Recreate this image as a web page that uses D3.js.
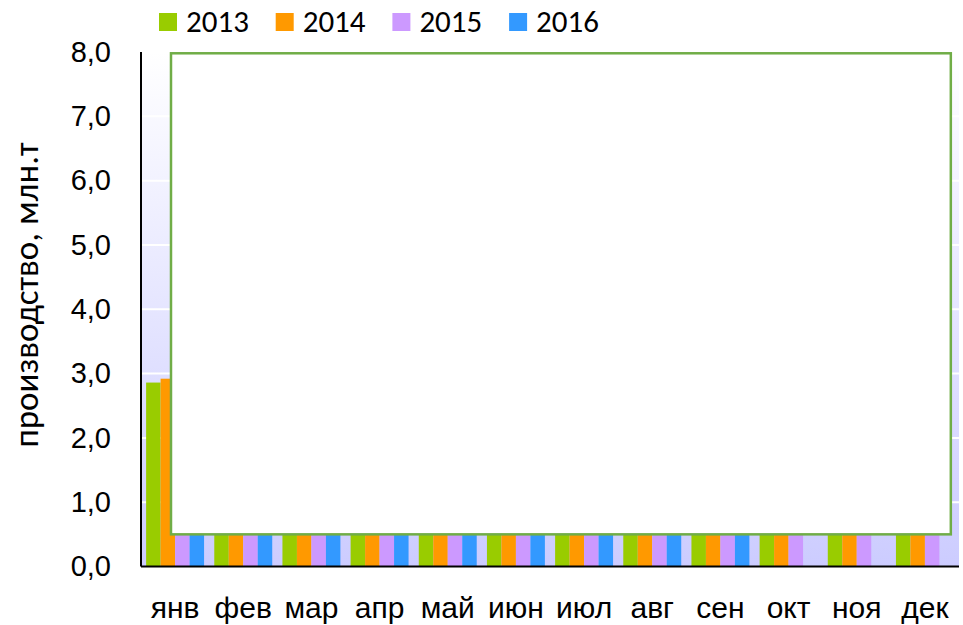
<!DOCTYPE html>
<meta charset="utf-8">
<style>
  body { margin: 0; background: #fff; }
  svg { display: block; font-family: Calibri, Carlito, "Open Sans", sans-serif; }
  .axis path, .axis line { display: none; }
  .axis text { fill: #000; }
</style>
<body></body>
<script src="https://cdn.jsdelivr.net/npm/d3@7"></script>
<script>
// months, series and ticks (hidden bars are estimates)
var months = ["янв", "фев", "мар", "апр", "май", "июн", "июл", "авг", "сен", "окт", "ноя", "дек"];
var years = ["2013", "2014", "2015", "2016"];
var colors = ["#99CC00", "#FF9900", "#CC99FF", "#3399FF"];
var v2013 = [2.86, 2.60, 2.85, 2.75, 2.80, 2.70, 2.85, 2.90, 2.80, 2.95, 2.90, 3.00];
var v2014 = [2.92, 2.65, 2.90, 2.80, 2.85, 2.75, 2.90, 2.95, 2.85, 3.00, 2.95, 3.05];
var v2015 = [2.95, 2.70, 2.95, 2.85, 2.90, 2.80, 2.95, 3.00, 2.90, 3.05, 3.00, 3.10];
var v2016 = [3.00, 2.80, 3.00, 2.90, 2.95, 2.85, 3.00, 3.05, 2.95, null, null, null];
var yTicks = [0, 1, 2, 3, 4, 5, 6, 7, 8];
var yTitle = "производство, млн.т";

var series = [v2013, v2014, v2015, v2016];

var width = 963, height = 625;
var plot = {left: 141, right: 959, top: 52, bottom: 566.5};

var svg = d3.select("body").append("svg")
    .attr("width", width)
    .attr("height", height);

var x0 = d3.scaleBand()
    .domain(months)
    .range([plot.left, plot.right])
    .paddingInner(0.15)
    .paddingOuter(0.075);

var x1 = d3.scaleBand()
    .domain(years)
    .range([0, x0.bandwidth()]);

// continuous version of the category axis (used for the overlay frame)
var xi = d3.scaleLinear().domain([0, months.length]).range([plot.left, plot.right]);

var y = d3.scaleLinear().domain([0, 8]).range([plot.bottom, plot.top]);

// plot background gradient
var grad = svg.append("defs").append("linearGradient")
    .attr("id", "bg")
    .attr("x1", 0).attr("y1", 0).attr("x2", 0).attr("y2", 1);
grad.append("stop").attr("offset", "0%").attr("stop-color", "#ffffff");
grad.append("stop").attr("offset", "100%").attr("stop-color", "#ccccff");

svg.append("rect")
    .attr("x", plot.left)
    .attr("y", y(8))
    .attr("width", plot.right - plot.left)
    .attr("height", y(0) - y(8))
    .attr("fill", "url(#bg)");

// white gridlines
svg.append("g").selectAll("line")
  .data(yTicks.slice(1))
  .join("line")
    .attr("x1", plot.left)
    .attr("x2", plot.right)
    .attr("y1", function(d) { return y(d); })
    .attr("y2", function(d) { return y(d); })
    .attr("stroke", "#fff")
    .attr("stroke-width", 2);

// bars
var rows = [];
months.forEach(function(m, i) {
  years.forEach(function(yr, j) {
    if (series[j][i] != null) rows.push({month: m, year: yr, value: series[j][i], color: colors[j]});
  });
});

svg.append("g").selectAll("rect")
  .data(rows)
  .join("rect")
    .attr("x", function(d) { return x0(d.month) + x1(d.year); })
    .attr("width", x1.bandwidth())
    .attr("y", function(d) { return y(d.value); })
    .attr("height", function(d) { return y(0) - y(d.value); })
    .attr("fill", function(d) { return d.color; });

// white frame laid over the plot
svg.append("rect")
    .attr("x", xi(0.44))
    .attr("y", y(7.98))
    .attr("width", xi(11.88) - xi(0.44))
    .attr("height", y(0.5) - y(7.98))
    .attr("fill", "#fff")
    .attr("stroke", "#70AD47")
    .attr("stroke-width", 2.5);

// axis lines
svg.append("line")
    .attr("x1", plot.left).attr("x2", plot.left)
    .attr("y1", y(8)).attr("y2", y(0))
    .attr("stroke", "#000").attr("stroke-width", 2);
svg.append("line")
    .attr("x1", plot.left).attr("x2", plot.right)
    .attr("y1", y(0)).attr("y2", y(0))
    .attr("stroke", "#000").attr("stroke-width", 2);

// y axis labels
var fmt = function(d) { return d3.format(".1f")(d).replace(".", ","); };
svg.append("g")
    .attr("class", "axis")
    .attr("transform", "translate(" + plot.left + ",0)")
    .call(d3.axisLeft(y).tickValues(yTicks).tickFormat(fmt).tickSize(0).tickPadding(30))
    .selectAll("text")
    .style("font-size", "29px");

// x axis labels
svg.append("g")
    .attr("class", "axis")
    .attr("transform", "translate(0," + plot.bottom + ")")
    .call(d3.axisBottom(x0).tickSize(0).tickPadding(30))
    .selectAll("text")
    .style("font-size", "30px");

// y title
svg.append("text")
    .attr("transform", "translate(38," + 295 + ") rotate(-90)")
    .attr("text-anchor", "middle")
    .style("font-size", "35px")
    .text(yTitle);

// legend
var legend = svg.append("g").selectAll("g")
  .data(years)
  .join("g")
    .attr("transform", function(d, i) { return "translate(" + (159 + i * 116.7) + ",13)"; });
legend.append("rect")
    .attr("width", 18).attr("height", 18)
    .attr("fill", function(d, i) { return colors[i]; });
legend.append("text")
    .attr("x", 27).attr("y", 19)
    .style("font-size", "31px")
    .text(function(d) { return d; });
</script>
